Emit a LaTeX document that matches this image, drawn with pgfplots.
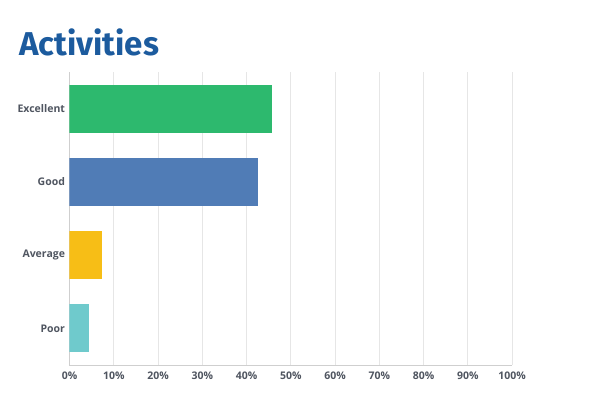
\documentclass[border=0pt]{standalone}
\usepackage{pgfplots}
\pgfplotsset{compat=1.18}
\usepackage{fontspec}
\setmainfont{Open Sans}
\newfontfamily\titlefont{Fira Sans}
\definecolor{smgreen}{HTML}{2DB96E}
\definecolor{smblue}{HTML}{507CB6}
\definecolor{smyellow}{HTML}{F7BE16}
\definecolor{smteal}{HTML}{6FCACC}
\definecolor{titleblue}{HTML}{1C5B9E}
\definecolor{ticktext}{HTML}{4F5560}
\definecolor{gridgray}{HTML}{E6E6E6}
\definecolor{axisgray}{HTML}{CFCFCF}
\begin{document}
\begin{tikzpicture}[x=1pt,y=1pt]
\useasboundingbox (0,0) rectangle (600,-400);
\node[anchor=base west, inner sep=0pt, text=titleblue, font=\titlefont\bfseries\fontsize{33}{38}\selectfont] at (19,-55) {Activities};
\begin{axis}[
    at={(69.5pt,-365pt)}, anchor=south west,
    scale only axis,
    width=442.5pt, height=293pt,
    xbar, bar width=48pt, bar shift=0pt,
    xmin=0, xmax=100,
    ymin=-0.5, ymax=3.5,
    ytick={0,1,2,3},
    yticklabels={Poor,Average,Good,Excellent},
    xtick={0,10,...,100},
    xticklabel={\pgfmathprintnumber{\tick}\%},
    /pgf/number format/assume math mode=true,
    tick label style={font=\fontsize{10.5}{12}\selectfont\bfseries, text=ticktext},
    xticklabel style={yshift=-3pt},
    yticklabel style={xshift=-1pt},
    major tick length=0pt,
    xmajorgrids, grid style={gridgray, line width=0.6pt},
    axis x line*=bottom, axis y line*=left,
    axis line style={axisgray, line width=0.8pt, -},
    every axis plot/.append style={draw=none},
]
\addplot[fill=smteal] coordinates {(4.4,0)};
\addplot[fill=smyellow] coordinates {(7.3,1)};
\addplot[fill=smblue] coordinates {(42.5,2)};
\addplot[fill=smgreen] coordinates {(45.7,3)};
\end{axis}
\end{tikzpicture}
\end{document}
